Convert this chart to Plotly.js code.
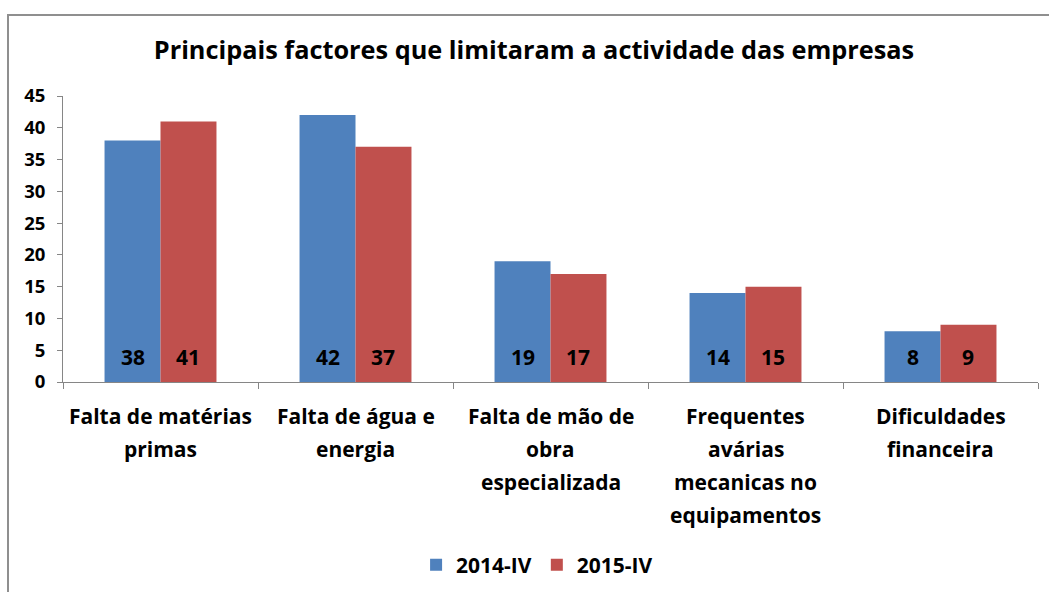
<!DOCTYPE html>
<html>
<head>
<meta charset="utf-8">
<script src="https://cdn.plot.ly/plotly-3.0.1.min.js"></script>
<style>
html,body{margin:0;padding:0;background:#fff;}
#chart{width:1049px;height:592px;}
#frame{position:absolute;left:7px;top:14px;width:1100px;height:700px;border:2px solid #8f8f8f;pointer-events:none;z-index:10;}
</style>
</head>
<body>
<div id="frame"></div>
<div id="chart"></div>
<script>
var categories = [
  "Falta de matérias<br>primas",
  "Falta de água e<br>energia",
  "Falta de mão de<br>obra<br>especializada",
  "Frequentes<br>avárias<br>mecanicas no<br>equipamentos",
  "Dificuldades<br>financeira"
];
var series2014 = [38, 42, 19, 14, 8];
var series2015 = [41, 37, 17, 15, 9];
var seriesNames = ["2014-IV", "2015-IV"];
var yTicks = [0, 5, 10, 15, 20, 25, 30, 35, 40, 45];
var chartTitle = "Principais factores que limitaram a actividade das empresas";

var FONT = "'Open Sans', sans-serif";
var W = 1049, H = 592;
var M = {l: 63, r: 11, t: 96, b: 210};
var BARGAP = 0.426;

function barTrace(name, values, color) {
  return {
    type: "bar",
    name: name,
    x: categories,
    y: values,
    marker: {color: color},
    hoverinfo: "none"
  };
}

var data = [
  barTrace(seriesNames[0], series2014, "#4F81BD"),
  barTrace(seriesNames[1], series2015, "#C0504D")
];

var annotations = [];
// category labels, one annotation per line
categories.forEach(function (c) {
  c.split("<br>").forEach(function (line, i) {
    annotations.push({
      x: c, xref: "x", y: 0, yref: "paper",
      yanchor: "middle", yshift: -34 - 33 * i,
      text: line, showarrow: false,
      font: {family: FONT, size: 21, color: "#000", weight: "bold"}
    });
  });
});
// value labels at the base of each bar
var barW = (W - M.l - M.r) / categories.length * (1 - BARGAP) / 2;
[series2014, series2015].forEach(function (vals, s) {
  vals.forEach(function (v, i) {
    annotations.push({
      x: categories[i], xref: "x", y: 0, yref: "y",
      yanchor: "middle", yshift: 25, xshift: (s === 0 ? -1 : 1) * barW / 2,
      text: String(v), showarrow: false,
      font: {family: FONT, size: 21, color: "#000", weight: "bold"}
    });
  });
});

var layout = {
  width: W, height: H,
  margin: M,
  paper_bgcolor: "#fff", plot_bgcolor: "#fff",
  title: {
    text: chartTitle,
    font: {family: FONT, size: 25.3, color: "#000", weight: "bold"},
    xref: "container", x: 0.509, xanchor: "center",
    yref: "container", y: 1 - 50 / 592, yanchor: "middle"
  },
  barmode: "group",
  bargap: BARGAP,
  bargroupgap: 0,
  showlegend: true,
  legend: {
    orientation: "h",
    xref: "container", x: 0.512, xanchor: "center",
    yref: "container", y: 1 - 565 / 592, yanchor: "middle",
    font: {family: FONT, size: 21, color: "#000", weight: "bold"},
    itemwidth: 30
  },
  xaxis: {
    type: "category",
    showticklabels: false,
    showline: true, linecolor: "#868686", linewidth: 1,
    ticks: "outside", ticklen: 6, tickcolor: "#868686",
    tickson: "boundaries",
    showgrid: false, zeroline: false
  },
  yaxis: {
    range: [0, 45],
    tickvals: yTicks,
    ticktext: yTicks.map(String),
    showline: true, linecolor: "#868686", linewidth: 1,
    ticks: "outside", ticklen: 5, tickcolor: "#868686",
    showgrid: false, zeroline: false,
    ticklabelstandoff: 8,
    tickfont: {family: FONT, size: 18.5, color: "#000", weight: "bold"}
  },
  annotations: annotations
};

Plotly.newPlot("chart", data, layout, {displayModeBar: false, staticPlot: true});
</script>
</body>
</html>
